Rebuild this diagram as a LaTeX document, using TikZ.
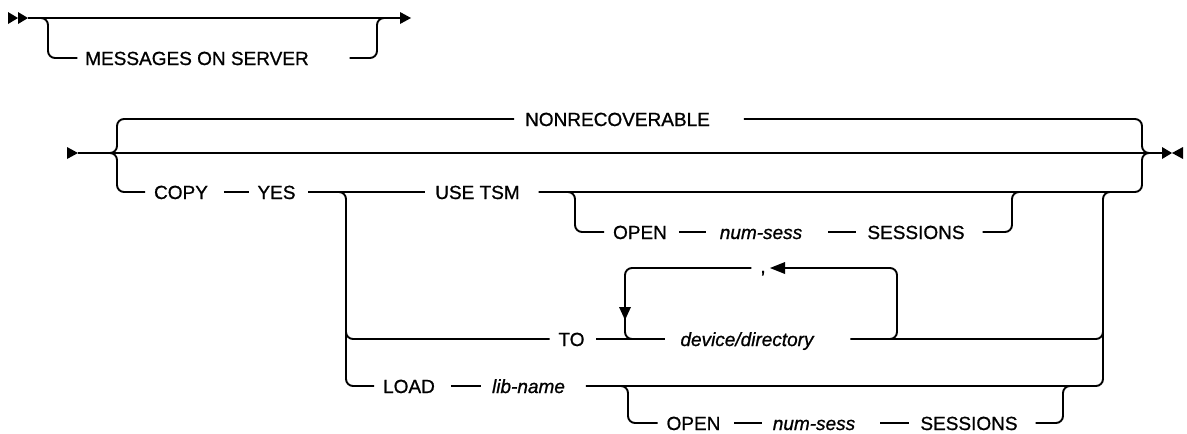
\documentclass[tikz,border=0pt]{standalone}
\usepackage{fontspec}
\setmainfont[FakeBold=0.9]{Liberation Sans}
\newcommand\kwfont{\fontsize{19}{22}\selectfont}
\begin{document}
\begin{tikzpicture}[x=1pt,y=-1pt,line width=1.9pt,
  rr/.style={rounded corners=7pt},
  kw/.style={inner sep=0pt,anchor=base,font=\kwfont},
  var/.style={inner sep=0pt,anchor=base,font=\kwfont\itshape},
  tipfill/.style={fill=black,draw=none}]
\useasboundingbox (0,0) rectangle (1187,434);

% ---------- part 1 ----------
\coordinate (s1) at (28,18);
\coordinate (e1) at (400,18);
\fill[tipfill] (8,12) -- (18,18) -- (8,24) -- cycle;
\fill[tipfill] (18,12) -- (28,18) -- (18,24) -- cycle;
\fill[tipfill] (400,12) -- (411,18) -- (400,24) -- cycle;
\node[kw] (msg) at (197,65) {MESSAGES ON SERVER};
\draw (s1) -- (e1);
\draw[rr] (36,18) -| (48,58) -- ([xshift=-7pt]msg.west |- 0,58);
\draw[rr] ([xshift=40pt]msg.east |- 0,58) -| (377,18) -- (388,18);

% ---------- part 2 ----------
\coordinate (s2) at (78,153);
\coordinate (e2) at (1162,153);
\fill[tipfill] (67,147) -- (78,153) -- (67,159) -- cycle;
\fill[tipfill] (1162,147) -- (1172,153) -- (1162,159) -- cycle;
\fill[tipfill] (1183,147) -- (1172,153) -- (1183,159) -- cycle;
\draw (s2) -- (e2);

% text nodes
\node[kw]  (nonrec) at (617.5,126) {NONRECOVERABLE};
\node[kw]  (copy)   at (181,199)   {COPY};
\node[kw]  (yes)    at (276.5,199) {YES};
\node[kw]  (usetsm) at (477.5,199) {USE TSM};
\node[kw]  (open1)  at (640,239)   {OPEN};
\node[var] (ns1)    at (761,239)   {num-sess};
\node[kw]  (sess1)  at (916,239)   {SESSIONS};
\node[kw]  (to)     at (571.5,346) {TO};
\node[var] (dd)     at (747,346)   {device/directory};
\node[kw]  (comma)  at (763,273)   {,};
\node[kw]  (load)   at (409,393)   {LOAD};
\node[var] (lib)    at (528.5,393) {lib-name};
\node[kw]  (open2)  at (693.5,430) {OPEN};
\node[var] (ns2)    at (814,430)   {num-sess};
\node[kw]  (sess2)  at (969,430)   {SESSIONS};

% braces and top option
\draw[rr] (106,153) -| (117,119) -- ([xshift=-10pt]nonrec.west |- 0,119);
\draw[rr] ([xshift=33pt]nonrec.east |- 0,119) -| (1142,153) -- (1152,153);
\draw[rr] (106,153) -| (117,192) -- ([xshift=-8pt]copy.west |- 0,192);

% COPY row
\draw ([xshift=15pt]copy.east |- 0,192) -- ([xshift=-8pt]yes.west |- 0,192);
\draw ([xshift=12pt]yes.east |- 0,192) -- ([xshift=-9pt]usetsm.west |- 0,192);
\draw[rr] ([xshift=18pt]usetsm.east |- 0,192) -| (1142,153) -- (1152,153);

% USE TSM optional OPEN
\draw[rr] (566,192) -| (575,232) -- ([xshift=-8pt]open1.west |- 0,232);
\draw ([xshift=11pt]open1.east |- 0,232) -- ([xshift=-13pt]ns1.west |- 0,232);
\draw ([xshift=25pt]ns1.east |- 0,232) -- ([xshift=-10pt]sess1.west |- 0,232);
\draw[rr] ([xshift=17pt]sess1.east |- 0,232) -| (1012,192) -- (1021,192);

% left vertical choice
\draw[rr] (336,192) -| (346,386) -- ([xshift=-8pt]load.west |- 0,386);
\draw[rr] (346,320) |- ([xshift=-8pt]to.west |- 0,339);

% TO row
\draw ([xshift=11pt]to.east |- 0,339) -- ([xshift=-15pt]dd.west |- 0,339);
\draw[rr] ([xshift=36pt]dd.east |- 0,339) -| (1103,320);

% repeat loop
\draw[rr] (880,339) -| (897,268) -- (784,268);
\fill[tipfill] (770,268) -- (785,262) -- (785,274) -- cycle;
\draw[rr] ([xshift=-8pt]comma.west |- 0,268) -| (625,308);
\fill[tipfill] (619,307) -- (631,307) -- (625,320) -- cycle;
\draw[rr] (625,316) |- (645,339);

% right vertical
\draw[rr] ([xshift=20pt]lib.east |- 0,386) -| (1103,192) -- (1113,192);

% LOAD row
\draw ([xshift=15pt]load.east |- 0,386) -- ([xshift=-10pt]lib.west |- 0,386);
\draw[rr] (619,386) -| (628,423) -- ([xshift=-8pt]open2.west |- 0,423);
\draw ([xshift=13pt]open2.east |- 0,423) -- ([xshift=-10pt]ns2.west |- 0,423);
\draw ([xshift=24pt]ns2.east |- 0,423) -- ([xshift=-10pt]sess2.west |- 0,423);
\draw[rr] ([xshift=17pt]sess2.east |- 0,423) -| (1063,386) -- (1072,386);
\end{tikzpicture}
\end{document}
